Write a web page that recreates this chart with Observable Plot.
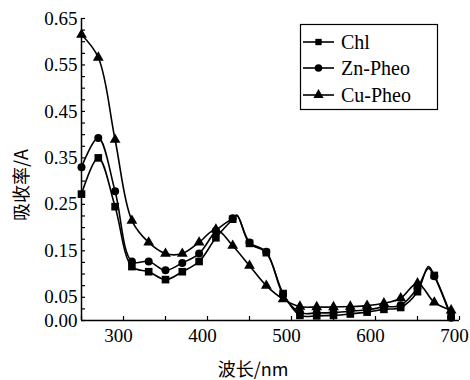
<!DOCTYPE html>
<html>
<head>
<meta charset="utf-8">
<script src="https://cdn.jsdelivr.net/npm/d3@7"></script>
<script src="https://cdn.jsdelivr.net/npm/@observablehq/plot@0.6"></script>
<style>
  body { margin: 0; background: #fff; }
  #wrap { position: relative; width: 470px; height: 380px; overflow: hidden; }
  #legend { position: absolute; left: 0; top: 0; }
  .ttl { position: absolute; white-space: nowrap; font-size: 18px; line-height: 1; color: #000; }
</style>
</head>
<body>
<div id="wrap"><div id="chart"></div><svg id="legend" width="470" height="130"></svg>
<div class="ttl" id="ytitle">吸收率/A</div>
<div class="ttl" id="xtitle">波长/nm</div>
</div>
<script>
// Marker wavelengths (nm)
const wavelengths = [250,270,290,310,330,350,370,390,410,430,450,470,490,510,530,550,570,590,610,630,650,670,690];
const chl    = [.272,.350,.245,.116,.105,.088,.105,.127,.178,.218,.166,.146,.058,.011,.010,.011,.014,.018,.024,.028,.062,.097,.010];
const znPheo = [.330,.393,.278,.127,.127,.108,.124,.144,.193,.220,.168,.148,.056,.017,.016,.017,.020,.023,.029,.033,.070,.095,.006];
const cuPheo = [.615,.566,.389,.215,.168,.144,.144,.168,.196,.161,.118,.075,.046,.030,.029,.029,.030,.032,.037,.048,.080,.039,.022];
// Peak points of the curves read between markers
const chlPeakWl = [435, 663];
const chlPeak   = [.227, .116];
const znPeakWl  = [435, 663];
const znPeak    = [.226, .112];

const seriesNames = ["Chl", "Zn-Pheo", "Cu-Pheo"];
const seriesSymbols = ["square", "circle", "triangle"];

const yTickValues = d3.range(0, 27).map(i => +(i * 0.025).toFixed(3));
const yTickLabels = [0, 0.05, 0.15, 0.25, 0.35, 0.45, 0.55, 0.65];
const xTickValues = [250,300,350,400,450,500,550,600,650,700];
const xTickLabels = [300,400,500,600,700];

function build(name, vals, extraWl = [], extraV = []) {
  const pts = wavelengths.map((w, i) => ({series: name, wl: w, v: vals[i], marker: true}));
  extraWl.forEach((w, i) => pts.push({series: name, wl: w, v: extraV[i], marker: false}));
  return pts.sort((a, b) => a.wl - b.wl);
}
const data = [
  build("Chl", chl, chlPeakWl, chlPeak),
  build("Zn-Pheo", znPheo, znPeakWl, znPeak),
  build("Cu-Pheo", cuPheo)
];

// pick an installed serif font
function hasFont(name) {
  const c = document.createElement("canvas").getContext("2d");
  const s = "Zn-Pheo 0.123456789 Chl";
  for (const base of ["monospace", "sans-serif"]) {
    c.font = `40px ${base}`; const w0 = c.measureText(s).width;
    c.font = `40px "${name}", ${base}`; const w1 = c.measureText(s).width;
    if (Math.abs(w0 - w1) > 0.5) return true;
  }
  return false;
}
const serifName = ["Liberation Serif", "DejaVu Serif", "Times New Roman", "Noto Serif", "Tinos"].find(hasFont);
const font = serifName ? `"${serifName}", serif` : "serif";
const cjkFont = `"Noto Sans CJK SC", ${font}`;

const W = 470, H = 380, mL = 81, mR = 11, mT = 18, mB = 60;
const innerW = W - mL - mR, innerH = H - mT - mB;

const marks = [
  Plot.ruleX([250], {stroke: "black", strokeWidth: 1.5}),
  Plot.ruleY([0], {stroke: "black", strokeWidth: 1.5}),
  Plot.tickY(yTickValues, {y: d => d, insetRight: innerW - 4, stroke: "black", strokeWidth: 1.2}),
  Plot.tickX(xTickValues, {x: d => d, insetTop: innerH - 4, stroke: "black", strokeWidth: 1.2}),
  Plot.axisY(yTickLabels, {tickSize: 0, tickPadding: 4, tickFormat: d3.format(".2f"), label: null, fontSize: 19, fontFamily: font}),
  Plot.axisX(xTickLabels, {tickSize: 0, tickPadding: 8, dx: -5, tickFormat: d => d, label: null, fontSize: 19, fontFamily: font})
];
data.forEach((pts, i) => {
  marks.push(Plot.line(pts, {x: "wl", y: "v", curve: "catmull-rom", stroke: "black", strokeWidth: 1.6}));
});
data.forEach((pts, i) => {
  marks.push(Plot.dot(pts.filter(d => d.marker), {x: "wl", y: "v", symbol: () => seriesSymbols[i], r: i === 0 ? 4.3 : 4, fill: "black", stroke: "none"}));
});

const chart = Plot.plot({
  width: W, height: H,
  marginLeft: mL, marginRight: mR, marginTop: mT, marginBottom: mB,
  x: {domain: [250, 700], axis: null},
  y: {domain: [0, 0.65], axis: null},
  style: {fontFamily: font, fontSize: "19px", color: "black", background: "white"},
  marks
});
document.getElementById("chart").appendChild(chart);

// Axis titles (HTML, positioned around the frame)
const yt = document.getElementById("ytitle");
yt.style.fontFamily = cjkFont;
yt.style.left = "20px"; yt.style.top = "185px";
yt.style.transform = "translate(-50%, -50%) rotate(-90deg)";
const xt = document.getElementById("xtitle");
xt.style.fontFamily = cjkFont;
xt.style.left = "253px"; xt.style.top = "368px";
xt.style.transform = "translate(-50%, -50%)";

// Legend
const lg = d3.select("#legend");
lg.append("rect").attr("x", 300.5).attr("y", 24.5).attr("width", 137).attr("height", 85)
  .attr("fill", "white").attr("stroke", "black").attr("stroke-width", 1.2);
const rows = [42, 68, 95];
seriesNames.forEach((n, i) => {
  const y = rows[i];
  lg.append("line").attr("x1", 303).attr("x2", 334).attr("y1", y).attr("y2", y).attr("stroke", "black").attr("stroke-width", 1.6);
  const sym = [d3.symbolSquare, d3.symbolCircle, d3.symbolTriangle][i];
  lg.append("path").attr("d", d3.symbol(sym, i === 0 ? 40 : 45)()).attr("transform", `translate(318.5,${y})`).attr("fill", "black");
  lg.append("text").attr("x", 341).attr("y", y).attr("dy", "0.35em").style("font-family", font).attr("font-size", 20).text(n);
});
</script>
</body>
</html>
